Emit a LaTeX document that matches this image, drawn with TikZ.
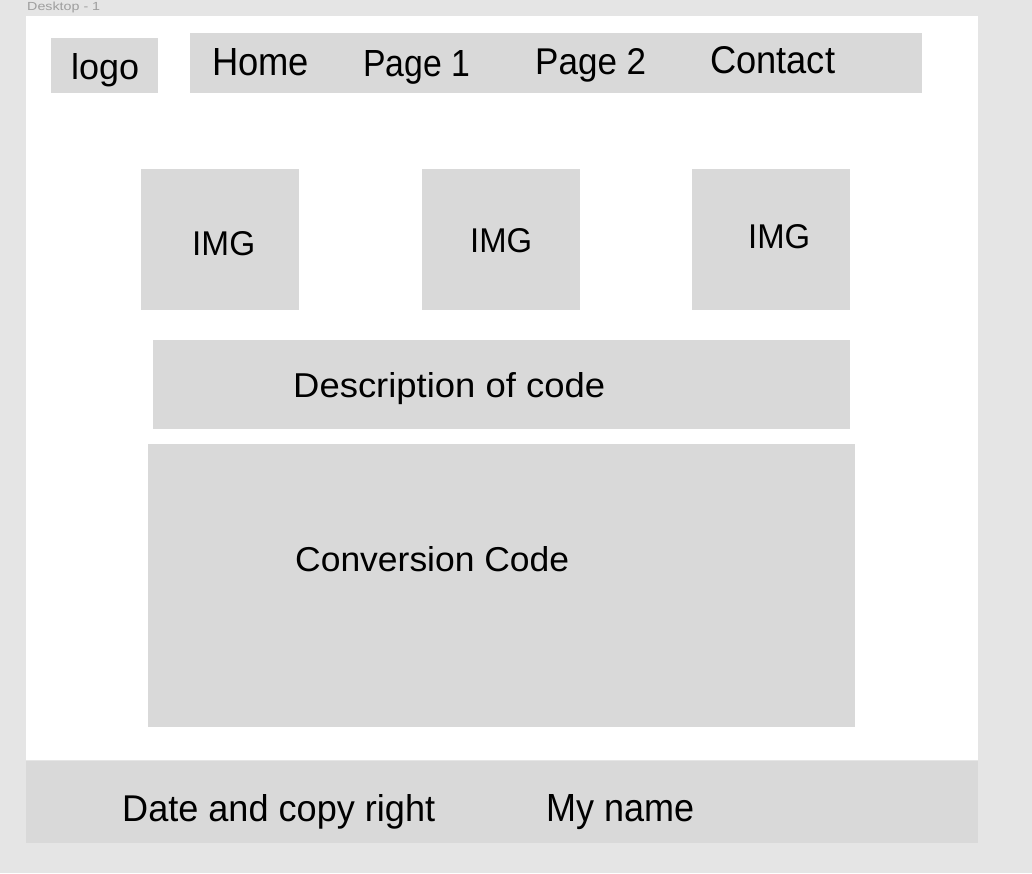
\documentclass[tikz,border=0pt]{standalone}
\usepackage{fontspec}
\setmainfont{Liberation Sans}
\usepackage{graphicx}
\definecolor{bgc}{HTML}{E5E5E5}
\definecolor{boxc}{HTML}{D9D9D9}
\definecolor{lblc}{HTML}{9E9E9E}
\newcommand{\fitwh}[3]{\resizebox{#1pt}{#2pt}{\fontsize{30}{36}\selectfont #3}}
\begin{document}
\begin{tikzpicture}[x=1pt,y=-1pt,
  blk/.style={fill=boxc,draw=none},
  lbl/.style={inner sep=0pt,text=black,anchor=base west}]
\useasboundingbox (0,0) rectangle (1032,873);
\fill[bgc] (0,0) rectangle (1032,873);
\node[lbl,text=lblc] (title) at (27,10) {\fitwh{73}{8.5}{Desktop - 1}};
\fill[white] (26,16) rectangle (978,760);
% header
\fill[blk] (51,38) rectangle (158,93);
\node[lbl] (logo) at (71,79) {\fitwh{68}{26}{logo}};
\fill[blk] (190,33) rectangle (922,93);
\node[lbl] (home) at (212,75) {\fitwh{97}{27}{Home}};
\node[lbl] (p1) at (363,76) {\fitwh{107}{26}{Page 1}};
\node[lbl] (p2) at (535,74) {\fitwh{111}{26}{Page 2}};
\node[lbl] (contact) at (710,73) {\fitwh{125}{27}{Contact}};
% images
\fill[blk] (141,169) rectangle (299,310);
\fill[blk] (422,169) rectangle (580,310);
\fill[blk] (692,169) rectangle (850,310);
\node[lbl] (img1) at (192,255) {\fitwh{63}{24}{IMG}};
\node[lbl] (img2) at (470,252) {\fitwh{62}{24}{IMG}};
\node[lbl] (img3) at (748,248) {\fitwh{62}{24}{IMG}};
% description
\fill[blk] (153,340) rectangle (850,429);
\node[lbl] (desc) at (293,397) {\fitwh{312}{25}{Description of code}};
% conversion
\fill[blk] (148,444) rectangle (855,727);
\node[lbl] (conv) at (295,571) {\fitwh{274}{25}{Conversion Code}};
% footer
\fill[blk] (26,761) rectangle (978,843);
\node[lbl] (date) at (122,821) {\fitwh{313}{27}{Date and copy right}};
\node[lbl] (name) at (546,821) {\fitwh{148}{27}{My name}};
\end{tikzpicture}
\end{document}
